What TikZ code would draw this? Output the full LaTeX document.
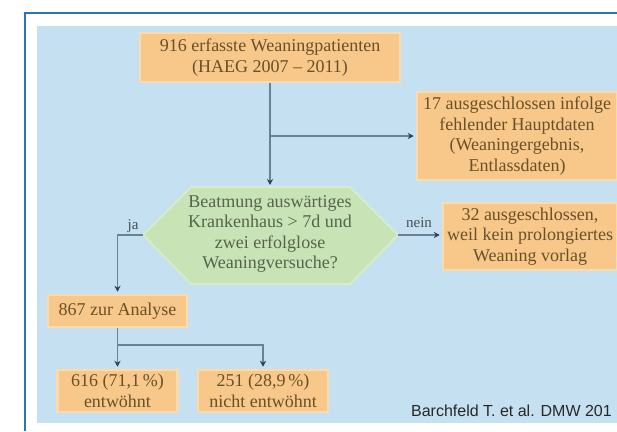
\documentclass[tikz,border=0pt]{standalone}
\usepackage{fontspec}
\setmainfont{Liberation Serif}
\newfontfamily\srcfont{Liberation Sans}
\usetikzlibrary{arrows.meta}
\definecolor{panel}{RGB}{197,224,241}
\definecolor{frameblue}{RGB}{43,116,184}
\definecolor{boxfill}{RGB}{248,200,138}
\definecolor{boxedge}{RGB}{251,218,172}
\definecolor{boxtext}{RGB}{105,80,40}
\definecolor{hexfill}{RGB}{200,228,182}
\definecolor{hexedge}{RGB}{214,236,202}
\definecolor{hextext}{RGB}{85,100,75}
\definecolor{linecol}{RGB}{105,130,150}
\definecolor{tipcol}{RGB}{45,65,90}
\definecolor{lblcol}{RGB}{70,80,90}
\definecolor{srccol}{RGB}{40,40,40}
\begin{document}
\begin{tikzpicture}[x=1pt,y=-1pt,
  obox/.style={fill=boxfill, draw=boxedge, line width=2.5pt, text=boxtext,
    font=\fontsize{18}{20.5}\selectfont, align=center, inner sep=0pt},
  hextxt/.style={text=hextext, font=\fontsize{18}{20.5}\selectfont, align=center, inner sep=0pt},
  conn/.style={draw=linecol, line width=1.8pt},
  arr/.style={conn, -{Stealth[length=6pt,width=6pt,color=tipcol]}, shorten >=2pt},
  lbl/.style={text=lblcol, font=\fontsize{15}{15}\selectfont, inner sep=0pt},
  srcstyle/.style={anchor=base east, text=srccol, font=\srcfont\fontsize{16}{16}\selectfont, inner sep=0pt}
]
\useasboundingbox (0,0) rectangle (617,431);
\fill[white] (0,0) rectangle (617,431);
\fill[panel] (37,26) rectangle (617,423);
\draw[frameblue, line width=1.5pt] (25,431) -- (25,13) -- (617,13);

% decision hexagon
\fill[hexfill, draw=hexedge, line width=2pt] (143,235) -- (191,187) -- (350,187) -- (398,235) -- (350,284) -- (191,284) -- cycle;
\coordinate (qL) at (143,235);
\coordinate (qR) at (398,235);
\coordinate (qT) at (270,187);
\node[hextxt] (q) at (270,234) {Beatmung auswärtiges\\Krankenhaus > 7d und\\zwei erfolglose\\Weaningversuche?};

% boxes
\node[obox, minimum width=260pt, minimum height=49pt] (t) at (270,57.5) {916 erfasste Weaningpatienten\\(HAEG 2007 -- 2011)};
\node[obox, minimum width=200pt, minimum height=88pt] (e1) at (517,136) {17 ausgeschlossen infolge\\fehlender Hauptdaten\\(Weaningergebnis,\\Entlassdaten)};
\node[obox, minimum width=174pt, minimum height=67pt] (e2) at (530,236.5) {32 ausgeschlossen,\\weil kein prolongiertes\\Weaning vorlag};
\node[obox, minimum width=139pt, minimum height=32pt] (a) at (117.5,311) {867 zur Analyse};
\node[obox, minimum width=120pt, minimum height=42pt] (b1) at (117.5,391) {616 (71,1\,\%)\\entwöhnt};
\node[obox, minimum width=130pt, minimum height=42pt] (b2) at (263,391) {251 (28,9\,\%)\\nicht entwöhnt};

% connectors
\draw[arr] (t.south) -- (qT);
\draw[arr] (t.south |- e1.west) -- (e1.west);
\draw[arr] (qR) -- (qR -| e2.west);
\draw[arr] (qL) -| (a.north);
\coordinate (j) at (117.5,345);
\draw[arr] (a.south) -- (b1.north);
\draw[arr] (j) -| (b2.north);

% labels
\node[lbl] (ja) at (133,226) {ja};
\node[lbl] (nein) at (419,223) {nein};

\node[srcstyle] (src) at (612,416) {Barchfeld T. et al. DMW 201};
\end{tikzpicture}
\end{document}
